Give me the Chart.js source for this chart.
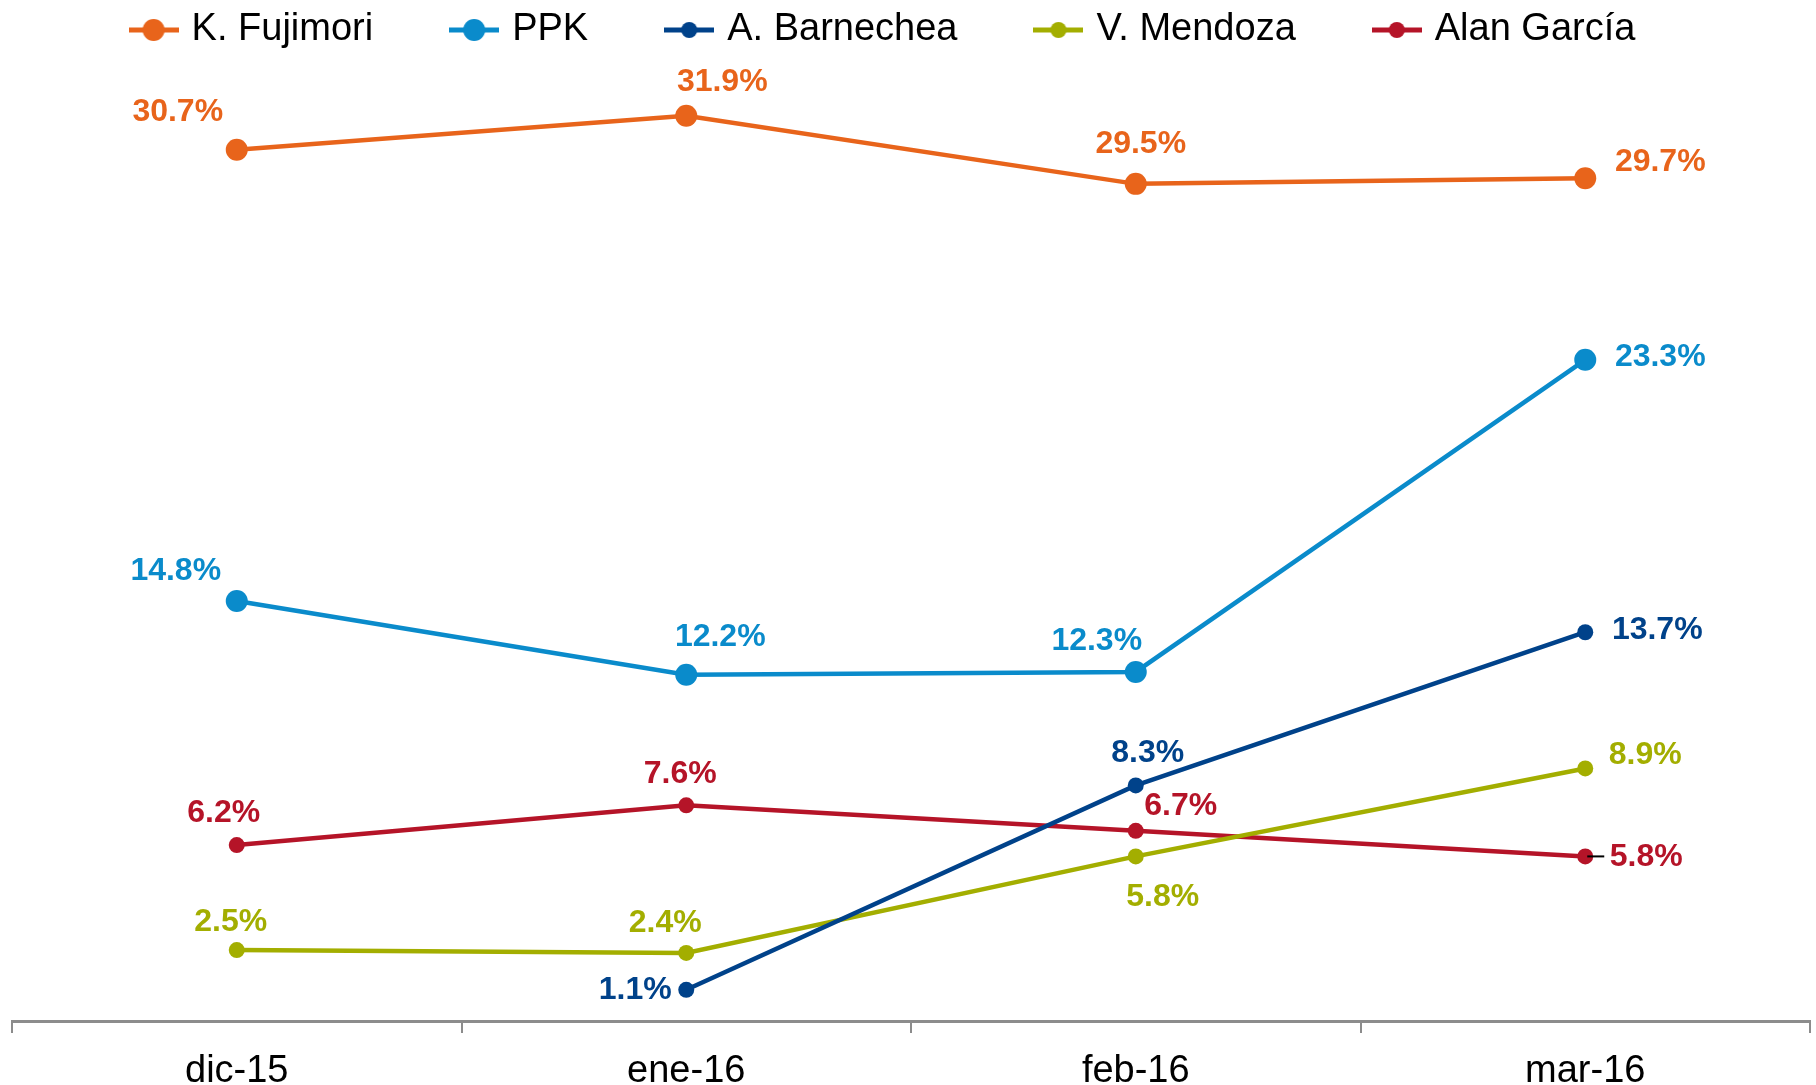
<!DOCTYPE html>
<html>
<head>
<meta charset="utf-8">
<script src="https://cdn.jsdelivr.net/npm/chart.js@4/dist/chart.umd.min.js"></script>
<style>
  html, body { margin: 0; padding: 0; background: #fff; }
  #wrap { width: 1816px; height: 1085px; }
</style>
</head>
<body>
<div id="wrap"><canvas id="chart" width="1816" height="1085"></canvas></div>
<script>
// months
var months = ["dic-15", "ene-16", "feb-16", "mar-16"];

// intención de voto (%)
var fujimori = [30.7, 31.9, 29.5, 29.7];
var ppk = [14.8, 12.2, 12.3, 23.3];
var barnechea = [null, 1.1, 8.3, 13.7];
var mendoza = [2.5, 2.4, 5.8, 8.9];
var garcia = [6.2, 7.6, 6.7, 5.8];

var names = ["K. Fujimori", "PPK", "A. Barnechea", "V. Mendoza", "Alan García"];
var colors = ["#E8641B", "#0A8BCB", "#00428A", "#A3AE00", "#B51428"];

// where each value label sits relative to its point (px)
var labelOffsets = [
    [[-59, -38], [36, -34], [5, -40], [75, -16]],
    [[-61, -30], [34, -38], [-39, -31], [75, -3]],
    [null, [-51, 0], [12, -32], [72, -2]],
    [[-6, -28], [-21, -30], [27, 41], [60, -13]],
    [[-13, -32], [-6, -31], [45, -25], [61, 1]]
];

var fontFam = "'Liberation Sans', Arial, sans-serif";

let legendMarker = (color, r) => {
    let c = document.createElement("canvas");
    c.width = 50;
    c.height = 24;
    let g = c.getContext("2d");
    g.strokeStyle = color;
    g.lineWidth = 5;
    g.beginPath();
    g.moveTo(0, 12);
    g.lineTo(50, 12);
    g.stroke();
    g.fillStyle = color;
    g.beginPath();
    g.arc(25, 12, r, 0, Math.PI * 2);
    g.fill();
    return c;
}

let valueLabels = {
    id: "valueLabels",
    afterLayout(chart) {
        // legend sits a bit left of centre in the original
        chart.legend.left -= 26;
        chart.legend.right -= 26;
    },
    afterDatasetsDraw(chart) {
        let ctx = chart.ctx;
        ctx.save();
        ctx.font = "bold 32px " + fontFam;
        ctx.textAlign = "center";
        ctx.textBaseline = "middle";
        chart.data.datasets.forEach((ds, d) => {
            let meta = chart.getDatasetMeta(d);
            meta.data.forEach((pt, i) => {
                let v = ds.data[i];
                let off = labelOffsets[d][i];
                if (v == null || !off) return;
                if (d == 4 && i == 3) {
                    // little leader line
                    ctx.strokeStyle = "#000";
                    ctx.lineWidth = 2;
                    ctx.beginPath();
                    ctx.moveTo(pt.x + 2, pt.y);
                    ctx.lineTo(pt.x + 19, pt.y);
                    ctx.stroke();
                }
                ctx.fillStyle = colors[d];
                ctx.fillText(v.toFixed(1) + "%", pt.x + off[0], pt.y + off[1]);
            });
        });
        ctx.restore();
    }
};

let series = [fujimori, ppk, barnechea, mendoza, garcia];
let radii = [11, 11, 8, 8, 8];

let chart = new Chart(document.getElementById("chart"), {
    type: "line",
    data: {
        labels: months,
        datasets: series.map((s, i) => ({
            label: names[i],
            data: s,
            borderColor: colors[i],
            backgroundColor: colors[i],
            borderWidth: 4.5,
            pointStyle: "circle",
            pointRadius: radii[i],
            pointHoverRadius: radii[i],
            pointBorderWidth: 0,
            tension: 0,
            spanGaps: false,
            clip: false
        }))
    },
    options: {
        responsive: false,
        animation: false,
        layout: { autoPadding: false, padding: { left: 12, right: 6, top: -71, bottom: 0 } },
        plugins: {
            legend: {
                position: "top",
                labels: {
                    usePointStyle: true,
                    pointStyleWidth: 38,
                    padding: 82,
                    color: "#000",
                    font: { family: fontFam, size: 38 },
                    generateLabels: (c) => c.data.datasets.map((ds, i) => ({
                        text: ds.label,
                        pointStyle: legendMarker(colors[i], radii[i]),
                        fillStyle: colors[i],
                        strokeStyle: colors[i],
                        lineWidth: 0,
                        datasetIndex: i,
                        hidden: false
                    }))
                }
            },
            tooltip: { enabled: false }
        },
        scales: {
            x: {
                offset: true,
                afterFit: (scale) => { scale.height = 64; },
                grid: {
                    offset: true,
                    drawOnChartArea: false,
                    drawTicks: true,
                    tickLength: 12,
                    color: "#8c8c8c",
                    lineWidth: 2
                },
                border: { color: "#8c8c8c", width: 3 },
                ticks: {
                    color: "#000",
                    padding: 16,
                    font: { family: fontFam, size: 38 }
                }
            },
            y: {
                display: false,
                min: 0,
                max: 33.9
            }
        }
    },
    plugins: [valueLabels]
});
</script>
</body>
</html>
